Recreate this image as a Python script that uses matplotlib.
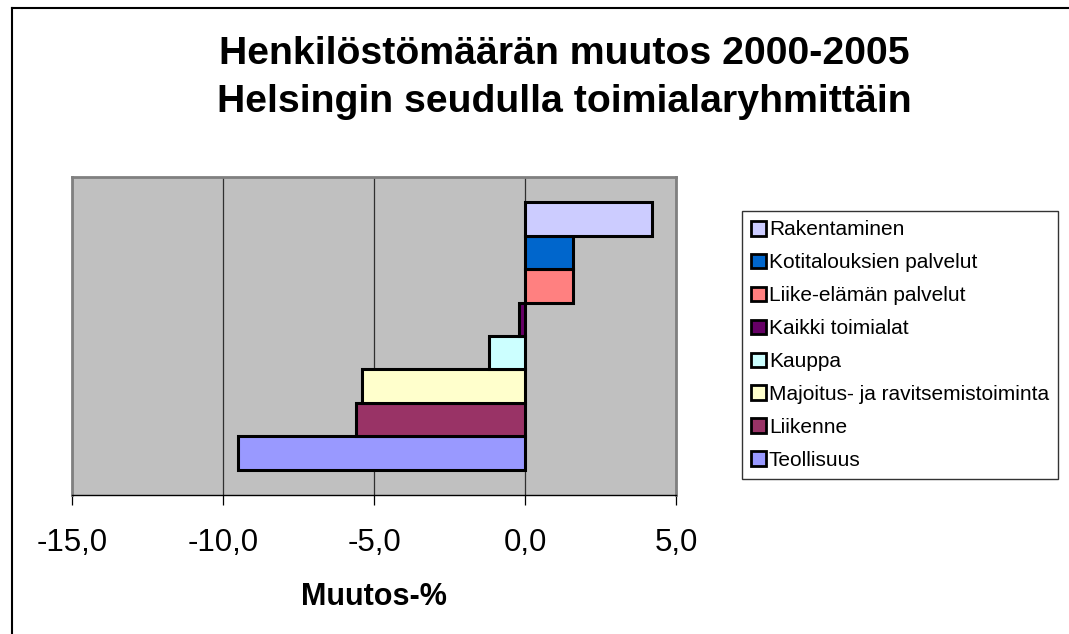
import matplotlib
matplotlib.use("Agg")
from matplotlib import pyplot as plt
from matplotlib.lines import Line2D
from matplotlib.patches import Patch
from matplotlib.ticker import FuncFormatter

plt.rcParams['font.family'] = ['Liberation Sans', 'DejaVu Sans']

# toimialat alhaalta ylos (legendassa ylhaalta alas)
toimialat = ['Teollisuus', 'Liikenne', 'Majoitus- ja ravitsemistoiminta', 'Kauppa',
             'Kaikki toimialat', 'Liike-elämän palvelut', 'Kotitalouksien palvelut',
             'Rakentaminen']
muutos = [-9.5, -5.6, -5.4, -1.2, -0.2, 1.6, 1.6, 4.2]
varit = ['#9999FF', '#993366', '#FFFFCC', '#CCFFFF', '#660066', '#FF8080',
         '#0066CC', '#CCCCFF']
xticks = [-15, -10, -5, 0, 5]

fig = plt.figure(figsize=(10.69, 6.34), dpi=100)
ax = fig.add_axes([72 / 1069, 1 - 495 / 634, 604 / 1069, 318 / 634])
ax.set_facecolor('#C0C0C0')

for i in range(len(toimialat)):
    ax.barh(i, muutos[i], height=1.0, color=varit[i], edgecolor='black',
            linewidth=2.2, zorder=3)

ax.set_xlim(-15, 5)
ax.set_ylim(-1.25, 8.25)
ax.set_xticks(xticks)
ax.xaxis.set_major_formatter(FuncFormatter(lambda v, p: f"{v:.1f}".replace('.', ',')))
ax.set_yticks([])
ax.grid(axis='x', color='#303030', linewidth=0.9, zorder=1)
ax.tick_params(axis='x', direction='out', length=7, width=0.9, pad=17, labelsize=22.5)
for s in ['top', 'right', 'left']:
    ax.spines[s].set_color('#808080')
    ax.spines[s].set_linewidth(2)
ax.spines['bottom'].set_color('black')
ax.spines['bottom'].set_linewidth(1)
ax.set_xlabel('Muutos-%', fontsize=22, fontweight='bold', labelpad=17)

fig.text(564 / 1069, 1 - 64 / 634, 'Henkilöstömäärän muutos 2000-2005', ha='center',
         va='baseline', fontsize=28.3, fontweight='bold')
fig.text(564 / 1069, 1 - 112 / 634, 'Helsingin seudulla toimialaryhmittäin', ha='center',
         va='baseline', fontsize=28.3, fontweight='bold')

handles = [Patch(facecolor=varit[i], edgecolor='black', linewidth=2, label=toimialat[i])
           for i in range(len(toimialat) - 1, -1, -1)]
leg = fig.legend(handles=handles, loc='upper left',
                 bbox_to_anchor=(742 / 1069, 1 - 211 / 634),
                 fontsize=15, frameon=True, fancybox=False, shadow=False,
                 borderpad=0.45, labelspacing=0.67, handlelength=0.72,
                 handleheight=0.72, handletextpad=0.12, borderaxespad=0)
leg.get_frame().set_edgecolor('black')
leg.get_frame().set_linewidth(1)

# kaavion kehys (vain vasen ja yla reuna nakyvat)
fx = 11.5 / 1069
fy = 1 - 8 / 634
fig.add_artist(Line2D([fx, fx], [0, fy], transform=fig.transFigure,
                      color='black', linewidth=1.5))
fig.add_artist(Line2D([fx, 1], [fy, fy], transform=fig.transFigure,
                      color='black', linewidth=1.5))

fig.savefig('out.png', dpi=100)
